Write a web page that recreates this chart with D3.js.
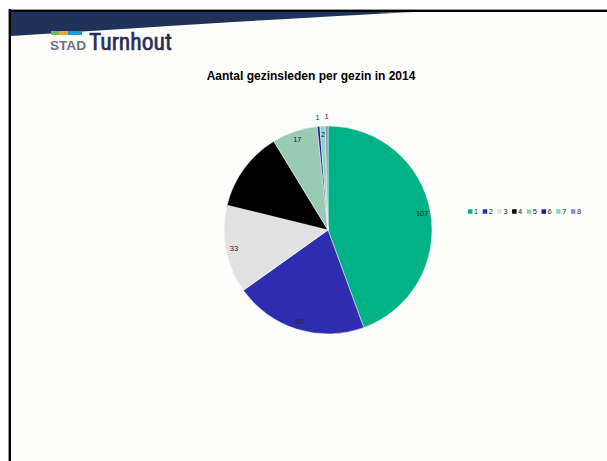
<!DOCTYPE html>
<html>
<head>
<meta charset="utf-8">
<script src="https://cdn.jsdelivr.net/npm/d3@7"></script>
<style>
  body { margin: 0; background: #fff; }
  svg { display: block; }
</style>
</head>
<body>
<script>
// data
const categories = ['1', '2', '3', '4', '5', '6', '7', '8']
const values = [107, 50, 33, 30, 17, 1, 2, 1]
const colors = ['#00b386', '#2e2db0', '#e1e1e1', '#000000', '#98cab4', '#1c1c96', '#8ad9bb', '#8a8ad8']

const width = 607
const height = 461
const cx = 328
const cy = 230
const r = 104

const svg = d3.select('body')
  .append('svg')
  .attr('width', width)
  .attr('height', height)

// slide frame
svg.append('rect')
  .attr('x', 10).attr('y', 10)
  .attr('width', width - 10).attr('height', height - 10)
  .attr('fill', '#fdfdfb')

const defs = svg.append('defs')
const grad = defs.append('linearGradient').attr('id', 'band')
  .attr('x1', 0).attr('x2', 1).attr('y1', 0).attr('y2', 0)
grad.append('stop').attr('offset', '0%').attr('stop-color', '#1f3258')
grad.append('stop').attr('offset', '85%').attr('stop-color', '#1f3258')
grad.append('stop').attr('offset', '100%').attr('stop-color', '#1f3258').attr('stop-opacity', 0)

svg.append('path')
  .attr('d', 'M11,11 L440,11 Q300,17 11,36 Z')
  .attr('fill', 'url(#band)')

// border lines
svg.append('line').attr('x1', 8).attr('x2', width).attr('y1', 9.5).attr('y2', 9.5)
  .attr('stroke', '#999').attr('stroke-width', 1)
svg.append('line').attr('x1', 8).attr('x2', width).attr('y1', 11).attr('y2', 11)
  .attr('stroke', '#000').attr('stroke-width', 2)
svg.append('line').attr('x1', 8.5).attr('x2', 8.5).attr('y1', 9).attr('y2', height)
  .attr('stroke', '#999').attr('stroke-width', 1)
svg.append('line').attr('x1', 10).attr('x2', 10).attr('y1', 9).attr('y2', height)
  .attr('stroke', '#000').attr('stroke-width', 2)

// logo
const logo = svg.append('g')
const blocks = [['#7ab648', 51, 8], ['#f0a830', 59, 9], ['#1a9ad6', 68, 14]]
logo.selectAll('rect')
  .data(blocks)
  .enter()
  .append('rect')
  .attr('x', (d) => d[1])
  .attr('y', 31)
  .attr('width', (d) => d[2])
  .attr('height', 4)
  .attr('fill', (d) => d[0])
logo.append('text')
  .attr('x', 50).attr('y', 50)
  .attr('textLength', 36)
  .attr('lengthAdjust', 'spacingAndGlyphs')
  .style('font', 'bold 12.5px "Liberation Sans", Arial, sans-serif')
  .attr('fill', '#6d7182')
  .text('STAD')
logo.append('text')
  .attr('x', 89).attr('y', 50)
  .attr('textLength', 83)
  .attr('lengthAdjust', 'spacingAndGlyphs')
  .style('font', '24px "Liberation Sans Narrow", "Roboto Condensed", "Liberation Sans", sans-serif')
  .attr('fill', '#2b2d55')
  .attr('stroke', '#2b2d55')
  .attr('stroke-width', 0.6)
  .text('Turnhout')

// title
svg.append('text')
  .attr('x', 311).attr('y', 80)
  .attr('text-anchor', 'middle')
  .style('font', 'bold 12px "Liberation Sans", Arial, sans-serif')
  .attr('fill', '#000')
  .text('Aantal gezinsleden per gezin in 2014')

// pie
const pie = d3.pie().sort(null).value((d) => d)
const arcs = pie(values)
const arc = d3.arc().innerRadius(0).outerRadius(r)

const g = svg.append('g').attr('transform', `translate(${cx},${cy})`)

g.selectAll('path')
  .data(arcs)
  .enter()
  .append('path')
  .attr('d', arc)
  .attr('fill', (d, i) => colors[i])
  .attr('stroke', '#fdfdfb')
  .attr('stroke-width', 0.5)

// labels: small slices 6 and 8 sit just outside, the rest inside the rim
const labelRadius = (i) => (i === 5 || i === 7 ? r * 1.09 : r * 0.92)
g.selectAll('text')
  .data(arcs)
  .enter()
  .append('text')
  .attr('transform', (d, i) => {
    const a = (d.startAngle + d.endAngle) / 2
    const lr = labelRadius(i)
    return `translate(${Math.sin(a) * lr},${-Math.cos(a) * lr})`
  })
  .attr('text-anchor', 'middle')
  .attr('dy', '0.35em')
  .style('font', '7.5px "Liberation Sans", Arial, sans-serif')
  .attr('fill', (d, i) => (i === 3 ? '#000' : '#262626'))
  .text((d) => d.data)

// legend
const legend = svg.append('g').attr('transform', 'translate(468,211.5)')
const item = legend.selectAll('g')
  .data(categories)
  .enter()
  .append('g')
  .attr('transform', (d, i) => `translate(${i * 14.7},0)`)
item.append('rect')
  .attr('width', 4.5).attr('height', 4.5)
  .attr('y', -2.25)
  .attr('fill', (d, i) => colors[i])
item.append('text')
  .attr('x', 6).attr('dy', '0.35em')
  .style('font', '7.5px "Liberation Sans", Arial, sans-serif')
  .attr('fill', '#262626')
  .text((d) => d)
</script>
</body>
</html>
